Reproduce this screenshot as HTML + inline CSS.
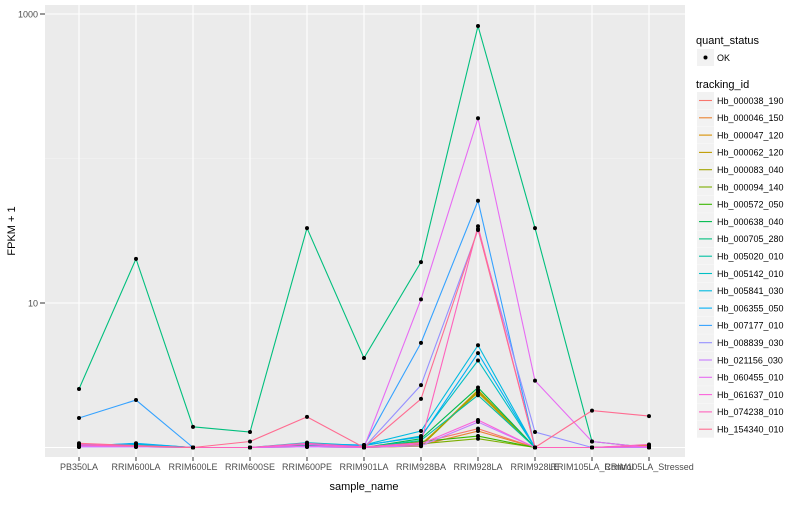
<!DOCTYPE html>
<html><head><meta charset="utf-8"><style>
body{margin:0;background:#fff;font-family:"Liberation Sans",sans-serif}
svg text{font-family:"Liberation Sans",sans-serif}
</style></head><body>
<svg id="chart" width="800" height="500">
<rect x="45" y="5" width="640" height="452" fill="#EBEBEB"/>
<g id="grid"></g><g id="lines"></g><g id="pts"></g><g id="axes"></g><g id="legend"></g>
</svg>
<script>
const samples=["PB350LA","RRIM600LA","RRIM600LE","RRIM600SE","RRIM600PE","RRIM901LA","RRIM928BA","RRIM928LA","RRIM928LE","RRIM105LA_Control","RRIM105LA_Stressed"];
const ids=["Hb_000038_190","Hb_000046_150","Hb_000047_120","Hb_000062_120","Hb_000083_040","Hb_000094_140","Hb_000572_050","Hb_000638_040","Hb_000705_280","Hb_005020_010","Hb_005142_010","Hb_005841_030","Hb_006355_050","Hb_007177_010","Hb_008839_030","Hb_021156_030","Hb_060455_010","Hb_061637_010","Hb_074238_010","Hb_154340_010"];
const colors=["#F8766D","#EA8331","#D89000","#C09B00","#A3A500","#7CAE00","#39B600","#00BB4E","#00BF7D","#00C1A3","#00BFC4","#00BAE0","#00B0F6","#35A2FF","#9590FF","#C77CFF","#E76BF3","#FA62DB","#FF62BC","#FF6C91"];
const s01=[1.05,1.04,1,1,1.06,1,1.08,1.35,1,1,1.03];
const s02=[1.03,1.05,1,1,1.04,1,1.04,1.3,1,1,1.02];
const s03=[1.02,1.06,1,1,1.03,1,1.05,2.4,1,1,1.04];
const s04=[1.01,1.02,1,1,1.02,1,1.03,2.5,1,1,1.01];
const s05=[1.02,1.03,1,1,1.02,1,1.02,2.45,1,1,1.02];
const s06=[1.01,1.01,1,1,1.01,1,1.06,1.15,1,1,1.01];
const s07=[1.02,1.02,1,1,1.03,1,1.1,1.2,1,1,1.01];
const s08=[1.03,1.03,1,1,1.04,1,1.15,2.6,1,1,1.01];
const s09=[2.54,20.2,1.39,1.28,33,4.16,19.2,826,33,1.1,1];
const s10=[1.04,1.05,1,1,1.05,1,1.12,2.3,1,1,1.01];
const s11=[1.05,1.04,1,1,1.08,1.03,1.2,4.0,1,1,1.01];
const s12=[1.03,1.06,1,1,1.06,1.04,1.3,5.1,1,1,1.01];
const s13=[1.02,1.07,1,1,1.05,1.04,1.18,4.5,1,1,1.01];
const s14=[1.6,2.13,1,1,1.02,1.03,5.3,51,1,1,1];
const s15=[1.01,1.01,1,1,1.01,1,2.7,32,1.28,1,1];
const s16=[1.01,1.01,1,1,1.01,1,1.03,1.5,1,1,1];
const s17=[1.02,1.02,1,1,1.02,1,10.6,190,2.9,1.1,1];
const s18=[1.06,1.03,1,1,1.05,1,1.06,1.55,1,1,1.02];
const s19=[1.04,1.02,1,1,1.07,1.01,1.08,34,1,1,1.05];
const s20=[1.07,1.03,1,1.1,1.63,1,2.17,32.5,1,1.8,1.65];
const series=[s01,s02,s03,s04,s05,s06,s07,s08,s09,s10,s11,s12,s13,s14,s15,s16,s17,s18,s19,s20];
const yTicks=[10,1000];
const yTickLabels=["10","1000"];
const NS="http://www.w3.org/2000/svg";
function xS(i){return 79+i*57;}
function yS(v){return 447.5-Math.log10(v)*144.5;}
function mk(tag,attrs,parent){const e=document.createElementNS(NS,tag);for(const k in attrs)e.setAttribute(k,attrs[k]);parent.appendChild(e);return e;}
const grid=document.getElementById('grid'),lines=document.getElementById('lines'),pts=document.getElementById('pts'),axes=document.getElementById('axes'),leg=document.getElementById('legend');
// minor grid
[100].forEach(v=>{const l=mk('line',{x1:45,x2:685,y1:yS(v),y2:yS(v),stroke:'#F5F5F5','stroke-width':0.6},grid);

});
yTicks.forEach((v,i)=>{const l=mk('line',{x1:45,x2:685,y1:yS(v),y2:yS(v),stroke:'#fff','stroke-width':1.1},grid);


const t=mk('text',{x:38,y:yS(v)+3.5,'text-anchor':'end','font-size':9,fill:'#4D4D4D'},axes);t.textContent=yTickLabels[i];


mk('line',{x1:40,x2:45,y1:yS(v),y2:yS(v),stroke:'#333'},axes);});
const l1=mk('line',{x1:45,x2:685,y1:yS(1),y2:yS(1),stroke:'#fff','stroke-width':1.1},grid);
samples.forEach((s,i)=>{const l=mk('line',{x1:xS(i),x2:xS(i),y1:5,y2:457,stroke:'#fff','stroke-width':1.1},grid);


mk('line',{x1:xS(i),x2:xS(i),y1:457,y2:461,stroke:'#333'},axes);
const t=mk('text',{x:xS(i),y:470,'text-anchor':'middle','font-size':9,fill:'#4D4D4D'},axes);t.textContent=s;

});
series.forEach((vals,k)=>{const p=mk('polyline',{points:vals.map((v,i)=>xS(i)+','+yS(v)).join(' '),fill:'none',stroke:colors[k],'stroke-width':1.1},lines);


vals.forEach((v,i)=>{const c=mk('circle',{cx:xS(i),cy:yS(v),r:2,fill:'#000'},pts);

});});
const xt=mk('text',{x:364,y:490,'text-anchor':'middle','font-size':11,fill:'#000'},axes);xt.textContent='sample_name';


const yt=mk('text',{x:15,y:231,'text-anchor':'middle','font-size':11,fill:'#000',transform:'rotate(-90 15 231)'},axes);yt.textContent='FPKM + 1';


// legend
const t1=mk('text',{x:696,y:44,'font-size':11},leg);t1.textContent='quant_status';


mk('rect',{x:697,y:49,width:17,height:17,fill:'#F2F2F2'},leg);
mk('circle',{cx:705.5,cy:57.5,r:2,fill:'#000'},leg);
const ok=mk('text',{x:717,y:61,'font-size':9},leg);ok.textContent='OK';


const t2=mk('text',{x:696,y:88,'font-size':11},leg);t2.textContent='tracking_id';


ids.forEach((id,k)=>{const cy=100.5+k*17.3;
mk('rect',{x:697,y:cy-8.5,width:17,height:17,fill:'#F2F2F2'},leg);
mk('line',{x1:699,x2:712,y1:cy,y2:cy,stroke:colors[k],'stroke-width':1.1},leg);
const t=mk('text',{x:717,y:cy+3.3,'font-size':9},leg);t.textContent=id;

});
</script>
</body></html>
